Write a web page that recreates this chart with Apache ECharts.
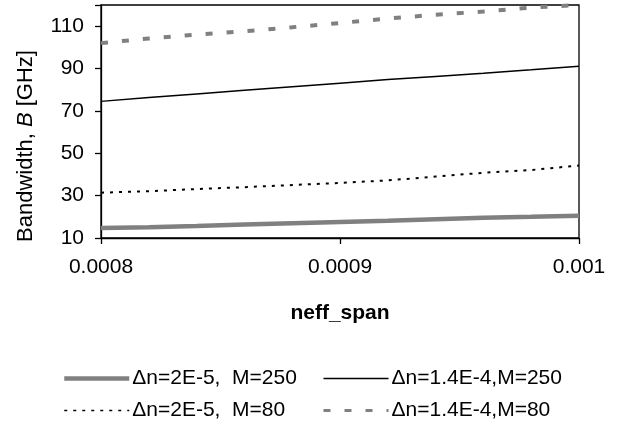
<!DOCTYPE html>
<html>
<head>
<meta charset="utf-8">
<script src="https://cdn.jsdelivr.net/npm/echarts@6/dist/echarts.min.js"></script>
<style>
  html, body { margin: 0; padding: 0; background: #fff; }
  #chart { width: 619px; height: 430px; }
</style>
</head>
<body>
<div id="chart"></div>
<script>
// neff_span sample points
const neffSpan = [0.0008, 0.00082, 0.00084, 0.00086, 0.00088, 0.0009,
                  0.00092, 0.00094, 0.00096, 0.00098, 0.001];

// Bandwidth B [GHz] for each configuration
const bwDn2e5M250   = [14.7, 15.1, 15.7, 16.4, 17.0, 17.6, 18.2, 18.9, 19.6, 20.0, 20.5];
const bwDn14e4M250  = [74.5, 76.3, 78.0, 79.7, 81.4, 83.1, 84.8, 86.3, 87.8, 89.4, 91.1];
const bwDn2e5M80    = [31.4, 32.1, 33.1, 34.0, 35.0, 36.0, 37.2, 39.0, 40.8, 42.1, 44.2];
const bwDn14e4M80   = [102.0, 104.2, 106.0, 107.6, 109.5, 111.5, 113.6, 115.4, 116.9, 118.8, 120.0];

const seriesNames = ['Δn=2E-5,  M=250', 'Δn=1.4E-4,M=250', 'Δn=2E-5,  M=80', 'Δn=1.4E-4,M=80'];

const xTicks = [0.0008, 0.0009, 0.001];
const yTicks = [10, 30, 50, 70, 90, 110];

const pairs = (ys) => neffSpan.map((x, i) => [x, ys[i]]);

const FONT = '"Liberation Sans", Arial, sans-serif';
const GREY = '#808080';
const FS = 21;

const chart = echarts.init(document.getElementById('chart'), null, { renderer: 'canvas' });

// legend entry: line sample only, no marker
const legendItem = (name, width) => ({
  name,
  itemStyle: { opacity: 0 },
  lineStyle: { width }
});

const legendBase = {
  orient: 'vertical',
  top: 363,
  itemWidth: 65, itemHeight: 14, itemGap: 11,
  selectedMode: false,
  textStyle: { fontFamily: FONT, fontSize: FS, color: '#000', padding: [0, 0, 0, -2] }
};

chart.setOption({
  backgroundColor: '#fff',
  animation: false,
  textStyle: { fontFamily: FONT },
  grid: {
    left: 101, right: 40, top: 5, bottom: 192,
    show: true, borderColor: '#000', borderWidth: 1.3, backgroundColor: 'transparent'
  },
  xAxis: {
    type: 'value',
    min: xTicks[0], max: xTicks[xTicks.length - 1], interval: 0.0001,
    name: 'neff_span',
    nameLocation: 'middle',
    nameGap: 65,
    nameTextStyle: { fontFamily: FONT, fontSize: FS, fontWeight: 'bold', color: '#000' },
    axisLine: { show: true, onZero: false, lineStyle: { color: '#000', width: 1.3 } },
    axisTick: { show: true, inside: false, length: 6, lineStyle: { color: '#000', width: 1.3 } },
    axisLabel: {
      margin: 19, fontSize: FS, color: '#000', fontFamily: FONT,
      formatter: (v) => String(parseFloat(v.toPrecision(6)))
    },
    splitLine: { show: false }
  },
  yAxis: {
    type: 'value',
    min: yTicks[0], max: 120, interval: 20,
    axisLine: { show: true, lineStyle: { color: '#000', width: 1.3 } },
    axisTick: { show: true, inside: false, length: 6, lineStyle: { color: '#000', width: 1.3 } },
    axisLabel: {
      margin: 17, fontSize: FS, color: '#000', fontFamily: FONT,
      formatter: (v) => (yTicks.indexOf(Math.round(v)) >= 0 ? String(Math.round(v)) : '')
    },
    splitLine: { show: false }
  },
  graphic: [{
    type: 'text',
    x: 26, y: 146,
    rotation: Math.PI / 2,
    style: {
      text: '{n|Bandwidth, }{i|B}{n| [GHz]}',
      rich: {
        n: { fontFamily: FONT, fontSize: 22, fill: '#000' },
        i: { fontFamily: FONT, fontSize: 22, fontStyle: 'italic', fill: '#000' }
      },
      align: 'center',
      verticalAlign: 'middle'
    }
  }],
  legend: [
    Object.assign({}, legendBase, {
      left: 57,
      data: [legendItem(seriesNames[0], 4.5), legendItem(seriesNames[2], 1.5)]
    }),
    Object.assign({}, legendBase, {
      left: 317,
      data: [legendItem(seriesNames[1], 1.5), legendItem(seriesNames[3], 3)]
    })
  ],
  series: [{
    name: seriesNames[0], type: 'line', data: pairs(bwDn2e5M250),
    symbol: 'none', color: GREY,
    lineStyle: { color: GREY, width: 4.5, type: 'solid' }
  }, {
    name: seriesNames[1], type: 'line', data: pairs(bwDn14e4M250),
    symbol: 'none', color: '#000',
    lineStyle: { color: '#000', width: 1.5, type: 'solid' }
  }, {
    name: seriesNames[2], type: 'line', data: pairs(bwDn2e5M80),
    symbol: 'none', color: '#000',
    lineStyle: { color: '#000', width: 2, type: [3, 6] }
  }, {
    name: seriesNames[3], type: 'line', data: pairs(bwDn14e4M80),
    symbol: 'none', color: GREY,
    lineStyle: { color: GREY, width: 4, type: [7, 14] }
  }]
});
</script>
</body>
</html>
